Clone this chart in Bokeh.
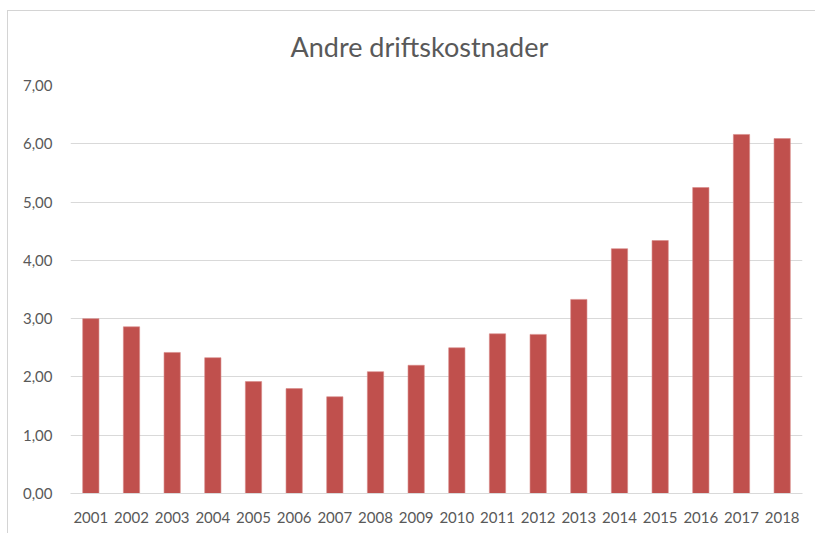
from bokeh.plotting import figure
from bokeh.models import FixedTicker, CustomJSTickFormatter, ColumnDataSource
from bokeh.embed import file_html
from bokeh.resources import INLINE

title_text = "Andre driftskostnader"
years = ["2001", "2002", "2003", "2004", "2005", "2006", "2007", "2008", "2009",
         "2010", "2011", "2012", "2013", "2014", "2015", "2016", "2017", "2018"]
values = [3.00, 2.86, 2.42, 2.33, 1.92, 1.80, 1.66, 2.09, 2.20,
          2.50, 2.74, 2.73, 3.33, 4.20, 4.34, 5.25, 6.16, 6.09]
y_ticks = [0, 1, 2, 3, 4, 5, 6, 7]

src = ColumnDataSource(dict(year=years, value=values))

p = figure(x_range=years, y_range=(0, 7), width=815, height=533,
           output_backend="svg", toolbar_location=None,
           min_border_left=70, min_border_right=13, min_border_top=85,
           min_border_bottom=40, title=title_text)

p.vbar(x="year", top="value", width=0.4, source=src,
       fill_color="#c0504d", line_color="#d98a88", line_width=0.6)

p.title.align = "left"
p.title.text_font = "Lato"
p.title.text_font_size = "27px"
p.title.text_font_style = "normal"
p.title.text_color = "#595959"
p.title.standoff = 45
p.title.offset = 220

p.outline_line_color = None
p.background_fill_color = "white"
p.border_fill_color = None

p.styles = {
    "background-color": "white",
    "background-image": "linear-gradient(#d4d4d4, #d4d4d4), linear-gradient(#d4d4d4, #d4d4d4)",
    "background-size": "1px 2000px, 2000px 1px",
    "background-position": "7px 10px, 7px 10px",
    "background-repeat": "no-repeat",
}

p.xgrid.grid_line_color = None
p.ygrid.grid_line_color = "#d9d9d9"
p.ygrid.grid_line_width = 1

p.yaxis.ticker = FixedTicker(ticks=y_ticks)
p.yaxis.formatter = CustomJSTickFormatter(code="return tick.toFixed(2).replace('.', ',');")
p.yaxis.axis_line_color = None
p.yaxis.major_tick_line_color = None
p.yaxis.minor_tick_line_color = None
p.yaxis.major_label_standoff = 12
p.yaxis.major_label_text_font = "Lato"
p.yaxis.major_label_text_font_size = "15px"
p.yaxis.major_label_text_color = "#595959"

p.xaxis.axis_line_color = "#d9d9d9"
p.xaxis.major_tick_line_color = None
p.xaxis.minor_tick_line_color = None
p.xaxis.major_label_standoff = 12
p.xaxis.major_label_text_font = "Lato"
p.xaxis.major_label_text_font_size = "15px"
p.xaxis.major_label_text_color = "#595959"

open("out.html", "w").write(file_html(p, INLINE))
